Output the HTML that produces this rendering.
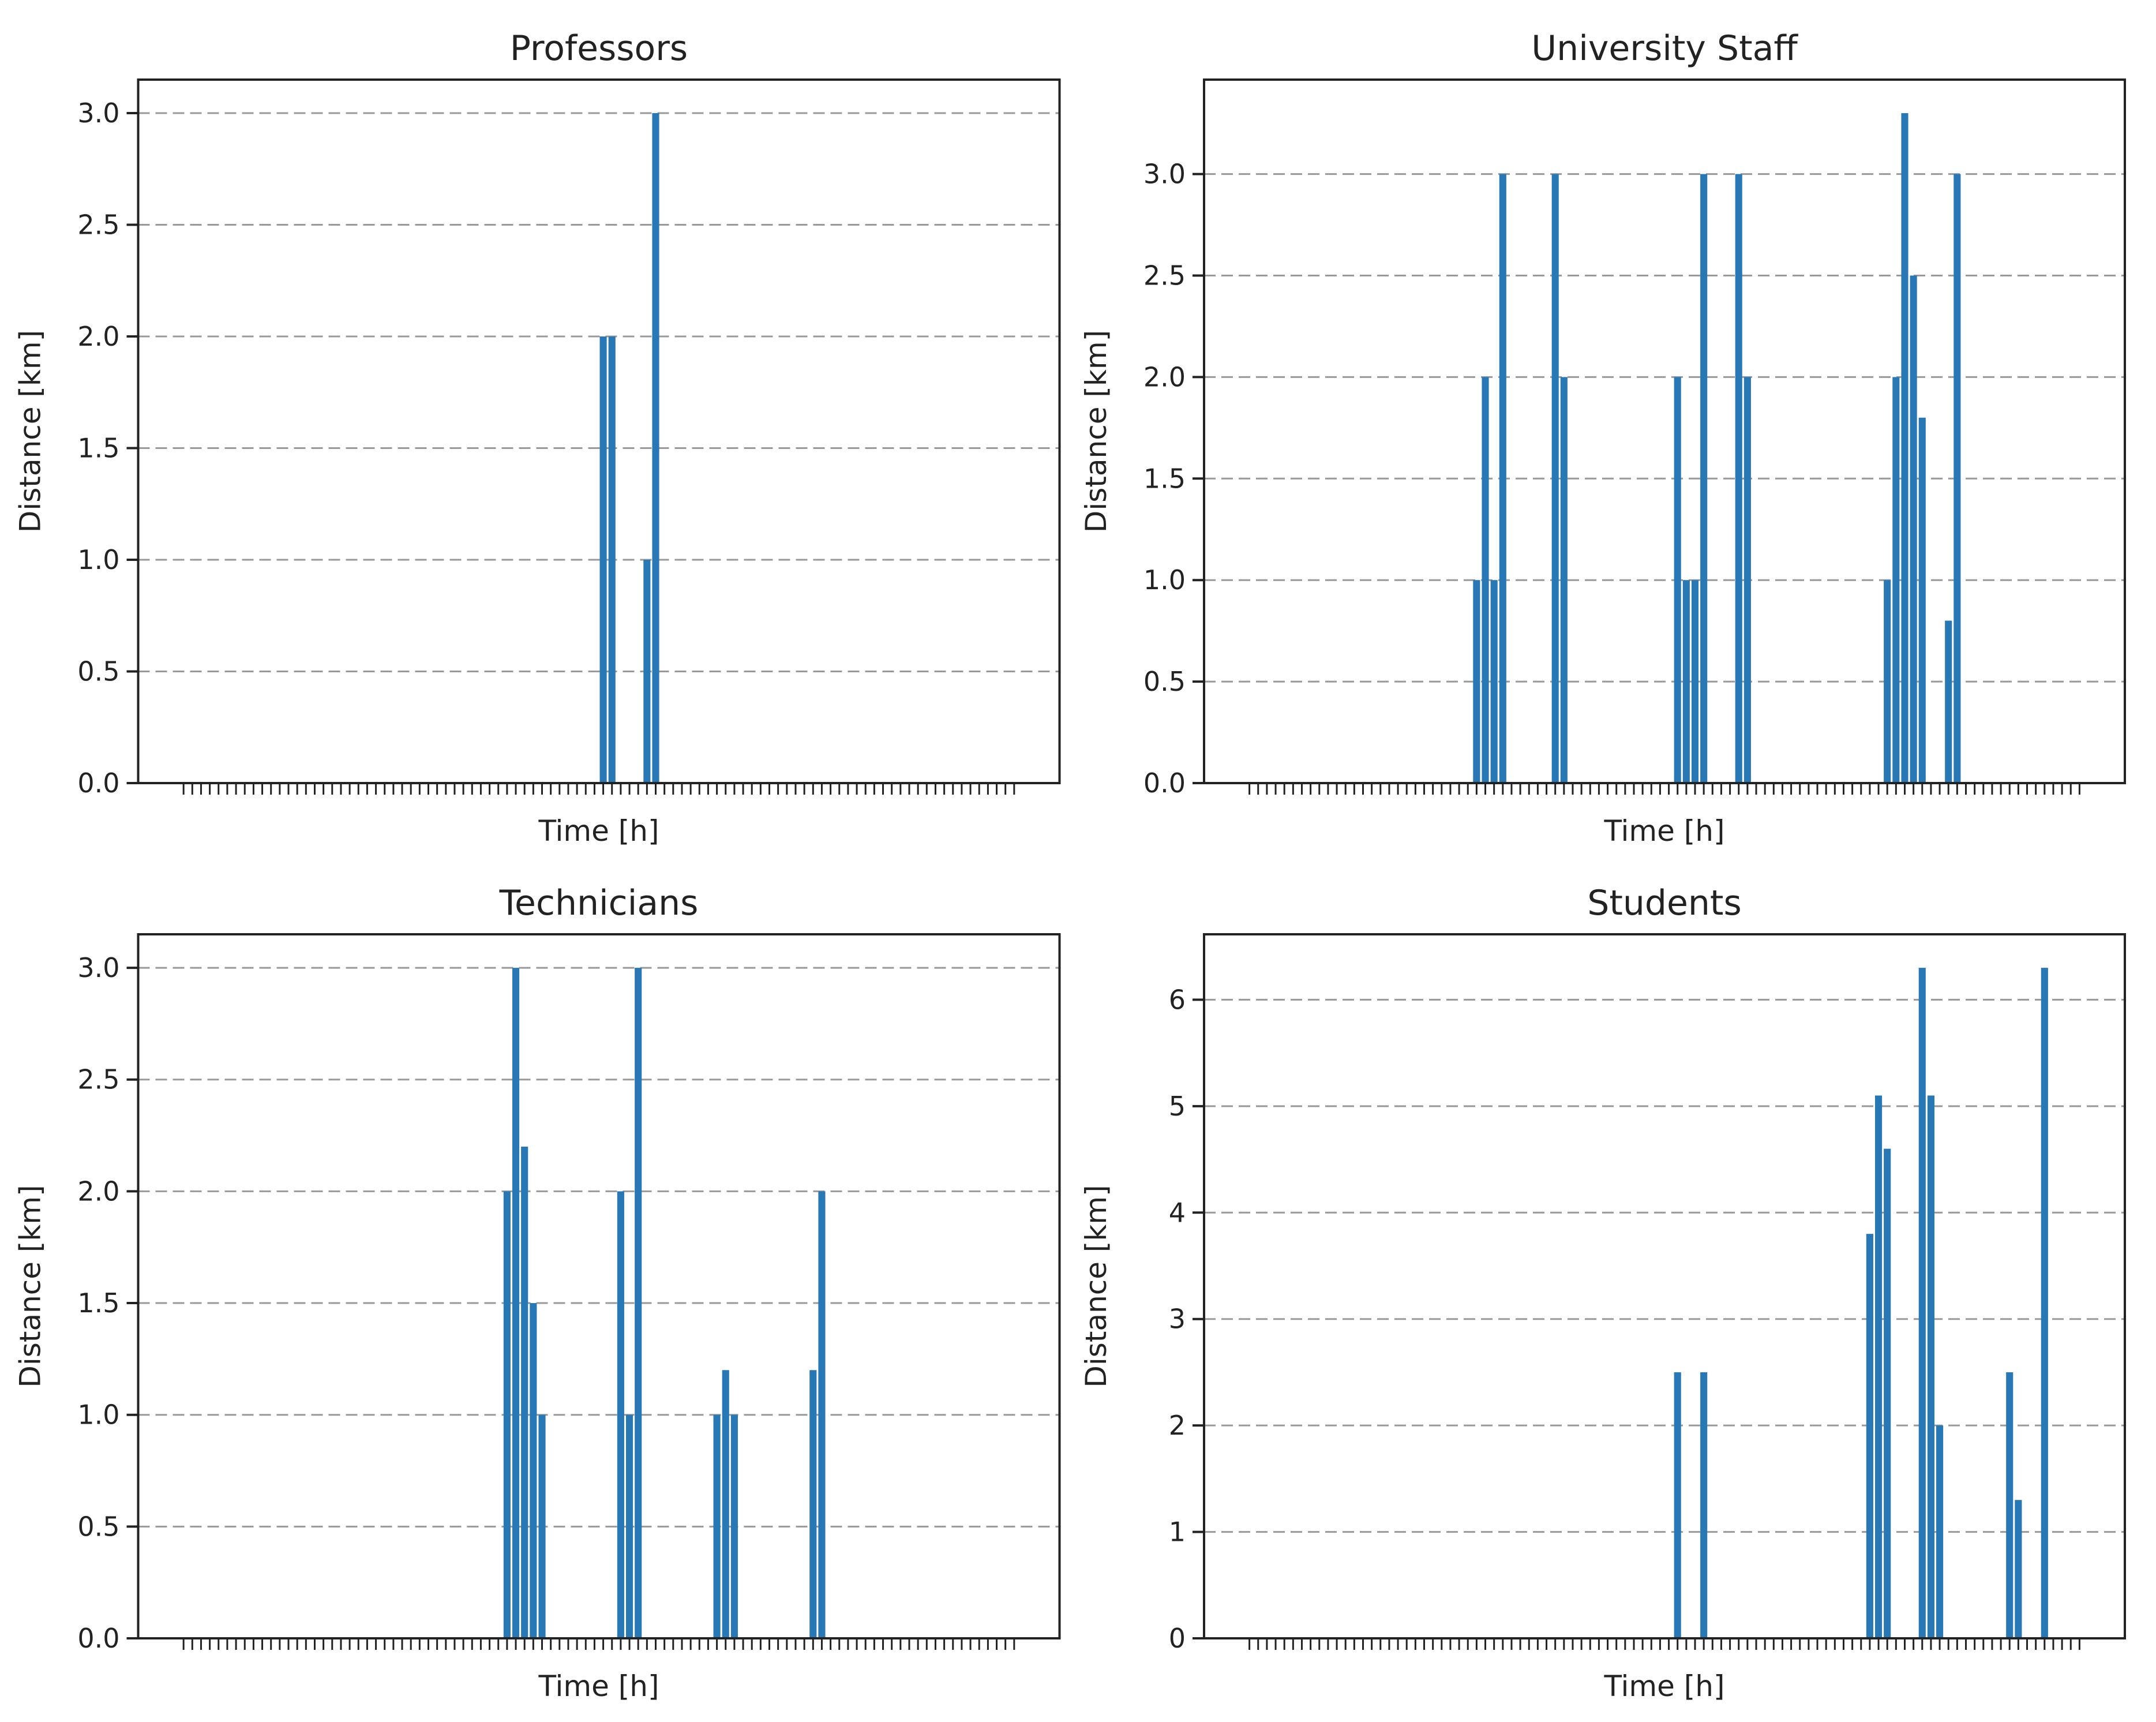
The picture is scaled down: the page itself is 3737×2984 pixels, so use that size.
<!DOCTYPE html>
<html><head><meta charset="utf-8">
<style>
html,body{margin:0;padding:0;background:#fff;}
svg{display:block;}
text{font-family:"DejaVu Sans","Liberation Sans",sans-serif;fill:#222;}
</style></head>
<body>
<svg id="fig" width="3737" height="2984" viewBox="0 0 3737 2984" xmlns="http://www.w3.org/2000/svg"></svg>
<script>
// ---- data ----
const timeSlots = 96;
const profIdx = [48, 49, 53, 54];
const profVal = [2.0, 2.0, 1.0, 3.0];
const staffIdx = [26, 27, 28, 29, 35, 36, 49, 50, 51, 52, 56, 57, 73, 74, 75, 76, 77, 80, 81];
const staffVal = [1.0, 2.0, 1.0, 3.0, 3.0, 2.0, 2.0, 1.0, 1.0, 3.0, 3.0, 2.0, 1.0, 2.0, 3.3, 2.5, 1.8, 0.8, 3.0];
const techIdx = [37, 38, 39, 40, 41, 50, 51, 52, 61, 62, 63, 72, 73];
const techVal = [2.0, 3.0, 2.2, 1.5, 1.0, 2.0, 1.0, 3.0, 1.0, 1.2, 1.0, 1.2, 2.0];
const studIdx = [49, 52, 71, 72, 73, 77, 78, 79, 87, 88, 91];
const studVal = [2.5, 2.5, 3.8, 5.1, 4.6, 6.3, 5.1, 2.0, 2.5, 1.3, 6.3];
const profTicks = ["0.0","0.5","1.0","1.5","2.0","2.5","3.0"];
const staffTicks = ["0.0","0.5","1.0","1.5","2.0","2.5","3.0"];
const techTicks = ["0.0","0.5","1.0","1.5","2.0","2.5","3.0"];
const studTicks = ["0","1","2","3","4","5","6"];

const NS = "http://www.w3.org/2000/svg";
const svg = document.getElementById('fig');
function mk(tag, attrs, parent){
  const e = document.createElementNS(NS, tag);
  for (const k in attrs) e.setAttribute(k, attrs[k]);
  (parent||svg).appendChild(e);
  return e;
}

function panel(cfg){
  const {key, title, L, T, W, H, idx, vals, ticks} = cfg;
  const g = mk('g', {});
  
  
  const maxV = Math.max(...vals);
  const ymax = maxV * 1.05;
  const xmin = -0.4 - 0.05 * (timeSlots - 1 + 0.8), xmax = timeSlots - 1 + 0.4 + 0.05 * (timeSlots - 1 + 0.8);
  const xs = v => L + (v - xmin) / (xmax - xmin) * W;
  const ys = v => T + H - v / ymax * H;
  ticks.forEach(lbl => {
    const v = parseFloat(lbl);
    const y = ys(v);
    const gl = mk('line', {x1:L, x2:L+W, y1:y, y2:y, stroke:'#999', 'stroke-width':3, 'stroke-dasharray':'20 10'}, g);
    
    
    const tk = mk('line', {x1:L-20, x2:L, y1:y, y2:y, stroke:'#222', 'stroke-width':4}, g);
    
    
    const t = mk('text', {x:L-32, y:y+16, 'text-anchor':'end', 'font-size':46}, g);
    t.textContent = lbl;
    
    
  });
  idx.forEach((i, k) => {
    const x0 = xs(i - 0.4), x1 = xs(i + 0.4);
    const r = mk('rect', {x:x0, y:ys(vals[k]), width:x1-x0, height:ys(0)-ys(vals[k]), fill:'#2878b6'}, g);
    
    
  });
  for (let i = 0; i < timeSlots; i++){
    const x = xs(i);
    const tk = mk('line', {x1:x, x2:x, y1:T+H, y2:T+H+20, stroke:'#222', 'stroke-width':3}, g);
    
    
  }
  const fr = mk('rect', {x:L, y:T, width:W, height:H, fill:'none', stroke:'#222', 'stroke-width':4}, g);
  
  
  const tt = mk('text', {x:L+W/2, y:T-34, 'text-anchor':'middle', 'font-size':60}, g);
  tt.textContent = title;
  
  
  const xl = mk('text', {x:L+W/2, y:T+H+100, 'text-anchor':'middle', 'font-size':50}, g);
  xl.textContent = 'Time [h]';
  
  
  const yx = L - 170, yy = T + H/2;
  const yl = mk('text', {x:yx, y:yy, 'text-anchor':'middle', 'font-size':50, transform:`rotate(-90 ${yx} ${yy})`}, g);
  yl.textContent = 'Distance [km]';
  
  
}

panel({key:'professors', title:'Professors', L:239.5, T:138, W:1597, H:1219, idx:profIdx, vals:profVal, ticks:profTicks});
panel({key:'university-staff', title:'University Staff', L:2087, T:138, W:1596, H:1219, idx:staffIdx, vals:staffVal, ticks:staffTicks});
panel({key:'technicians', title:'Technicians', L:239.5, T:1619, W:1597, H:1220, idx:techIdx, vals:techVal, ticks:techTicks});
panel({key:'students', title:'Students', L:2087, T:1619, W:1596, H:1220, idx:studIdx, vals:studVal, ticks:studTicks});
</script>
</body></html>
